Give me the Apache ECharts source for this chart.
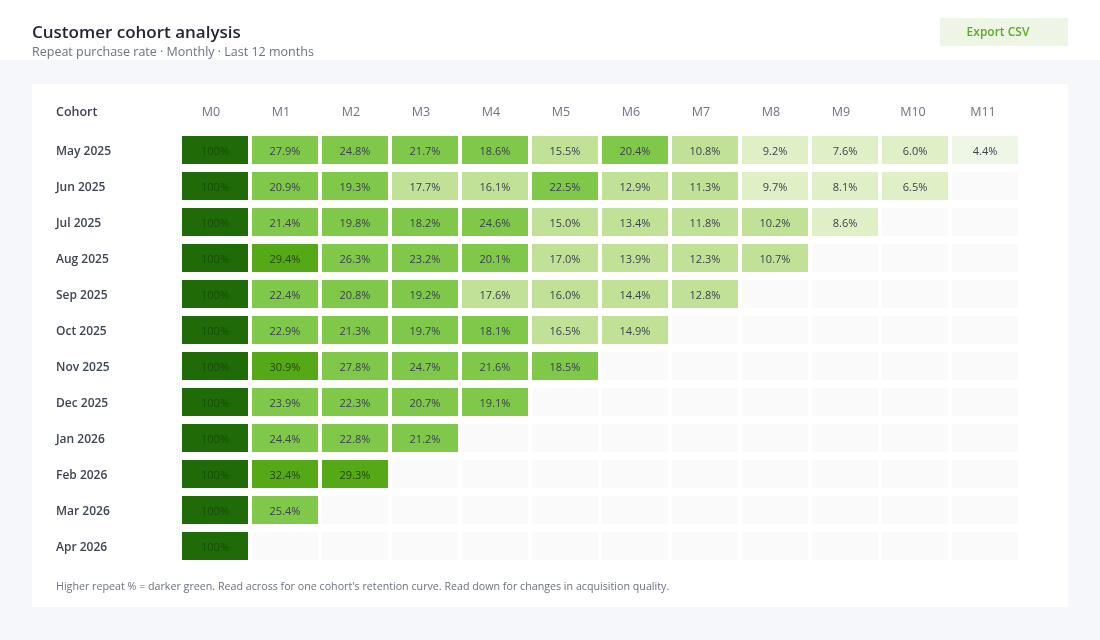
<!DOCTYPE html>
<html>
<head>
<meta charset="utf-8">
<script src="https://cdn.jsdelivr.net/npm/echarts@6/dist/echarts.min.js"></script>
<style>
html,body{margin:0;padding:0;background:#f5f7fb;}
#c{width:1100px;height:640px;}
</style>
</head>
<body>
<div id="c"></div>
<script>
const cohorts = ['May 2025','Jun 2025','Jul 2025','Aug 2025','Sep 2025','Oct 2025','Nov 2025','Dec 2025','Jan 2026','Feb 2026','Mar 2026','Apr 2026'];
const months = ['M0','M1','M2','M3','M4','M5','M6','M7','M8','M9','M10','M11'];
const may25 = [100, 27.9, 24.8, 21.7, 18.6, 15.5, 20.4, 10.8, 9.2, 7.6, 6.0, 4.4];
const jun25 = [100, 20.9, 19.3, 17.7, 16.1, 22.5, 12.9, 11.3, 9.7, 8.1, 6.5];
const jul25 = [100, 21.4, 19.8, 18.2, 24.6, 15.0, 13.4, 11.8, 10.2, 8.6];
const aug25 = [100, 29.4, 26.3, 23.2, 20.1, 17.0, 13.9, 12.3, 10.7];
const sep25 = [100, 22.4, 20.8, 19.2, 17.6, 16.0, 14.4, 12.8];
const oct25 = [100, 22.9, 21.3, 19.7, 18.1, 16.5, 14.9];
const nov25 = [100, 30.9, 27.8, 24.7, 21.6, 18.5];
const dec25 = [100, 23.9, 22.3, 20.7, 19.1];
const jan26 = [100, 24.4, 22.8, 21.2];
const feb26 = [100, 32.4, 29.3];
const mar26 = [100, 25.4];
const apr26 = [100];
const rows = [may25, jun25, jul25, aug25, sep25, oct25, nov25, dec25, jan26, feb26, mar26, apr26];

const FONT = '"Open Sans", "Noto Sans", sans-serif';

const cellData = [];
rows.forEach((r, yi) => r.forEach((v, xi) => cellData.push([xi, yi, v])));
const emptyData = [];
cohorts.forEach((c, yi) => months.forEach((m, xi) => emptyData.push([xi, yi])));

function colorFor(v){
  if (v >= 99) return '#1f6b08';
  if (v >= 28) return '#56a916';
  if (v >= 18) return '#7fc84a';
  if (v >= 10) return '#c1e296';
  if (v >= 5) return '#dff0c7';
  return '#eef6e5';
}
function textFor(v){
  if (v >= 99) return '#164e06';
  if (v >= 28) return '#23470f';
  return '#3b4250';
}

function cellRender(withLabel){
  return function(params, api){
    const x = api.value(0), y = api.value(1);
    const p = api.coord([x, y]);
    const s = api.size([1, 1]);
    const w = s[0] - 4, h = s[1] - 8;
    const v = withLabel ? api.value(2) : null;
    const rect = {
      type: 'rect',
      shape: {x: p[0] - w/2, y: p[1] - h/2, width: w, height: h},
      style: {fill: withLabel ? colorFor(v) : '#fafafa'}
    };
    if (!withLabel) return rect;
    return {
      type: 'group',
      children: [rect, {
        type: 'text',
        x: p[0], y: p[1] + 1.5,
        style: {
          text: (v >= 99 ? '100' : v.toFixed(1)) + '%',
          fill: textFor(v),
          font: '11px ' + FONT,
          align: 'center',
          verticalAlign: 'middle'
        }
      }]
    };
  };
}

const chart = echarts.init(document.getElementById('c'), null, {renderer: 'canvas'});
chart.setOption({
  animation: false,
  backgroundColor: '#f5f7fb',
  graphic: [
    {type: 'rect', left: 0, top: 0, shape: {width: 1100, height: 60}, style: {fill: '#ffffff'}, z: -10},
    {type: 'rect', left: 32, top: 84, shape: {width: 1036, height: 523}, style: {fill: '#ffffff'}, z: -10},
    {type: 'text', left: 32, top: 25, style: {text: 'Customer cohort analysis', fill: '#1f2430', font: '600 17px ' + FONT}},
    {type: 'text', left: 32, top: 46, style: {text: 'Repeat purchase rate · Monthly · Last 12 months', fill: '#6b7280', font: '12.5px ' + FONT}},
    {type: 'rect', left: 940, top: 18, shape: {width: 128, height: 28}, style: {fill: '#edf6e5'}},
    {type: 'text', x: 998, y: 32.5, style: {text: 'Export CSV', fill: '#5aaa28', font: '600 12px ' + FONT, align: 'center', verticalAlign: 'middle'}},
    {type: 'text', x: 56, y: 112, style: {text: 'Cohort', fill: '#3d4451', font: '600 12.5px ' + FONT, verticalAlign: 'middle'}},
    {type: 'text', x: 56, y: 587, style: {text: "Higher repeat % = darker green. Read across for one cohort's retention curve. Read down for changes in acquisition quality.", fill: '#6b7280', font: '10.7px ' + FONT, verticalAlign: 'middle'}}
  ],
  grid: {left: 180, top: 132, width: 840, height: 432},
  xAxis: {
    type: 'category', data: months, position: 'top',
    axisLine: {show: false}, axisTick: {show: false}, splitLine: {show: false},
    axisLabel: {
      color: '#6b7280', fontFamily: FONT, fontSize: 12.5, fontWeight: 500, margin: 13,
      formatter: function(v){ return (v.length === 2 ? '{a|' : '{b|') + v + '}'; },
      rich: {
        a: {color: '#6b7280', fontFamily: FONT, fontSize: 12.5, fontWeight: 500, padding: [0, 8, 0, 0]},
        b: {color: '#6b7280', fontFamily: FONT, fontSize: 12.5, fontWeight: 500, padding: [0, 4, 0, 0]}
      }
    }
  },
  yAxis: {
    type: 'category', data: cohorts, inverse: true,
    axisLine: {show: false}, axisTick: {show: false}, splitLine: {show: false},
    axisLabel: {
      color: '#3d4451', fontFamily: FONT, fontSize: 12, fontWeight: 600, align: 'left', margin: 124,
      formatter: function(v){ return '{r|' + v + '}'; },
      rich: {r: {color: '#3d4451', fontFamily: FONT, fontSize: 12, fontWeight: 600, padding: [4, 0, 0, 0]}}
    }
  },
  series: [
    {type: 'custom', renderItem: cellRender(false), data: emptyData, encode: {x: 0, y: 1}, silent: true, z: 1},
    {type: 'custom', renderItem: cellRender(true), data: cellData, encode: {x: 0, y: 1}, z: 2}
  ]
});
</script>
</body>
</html>
